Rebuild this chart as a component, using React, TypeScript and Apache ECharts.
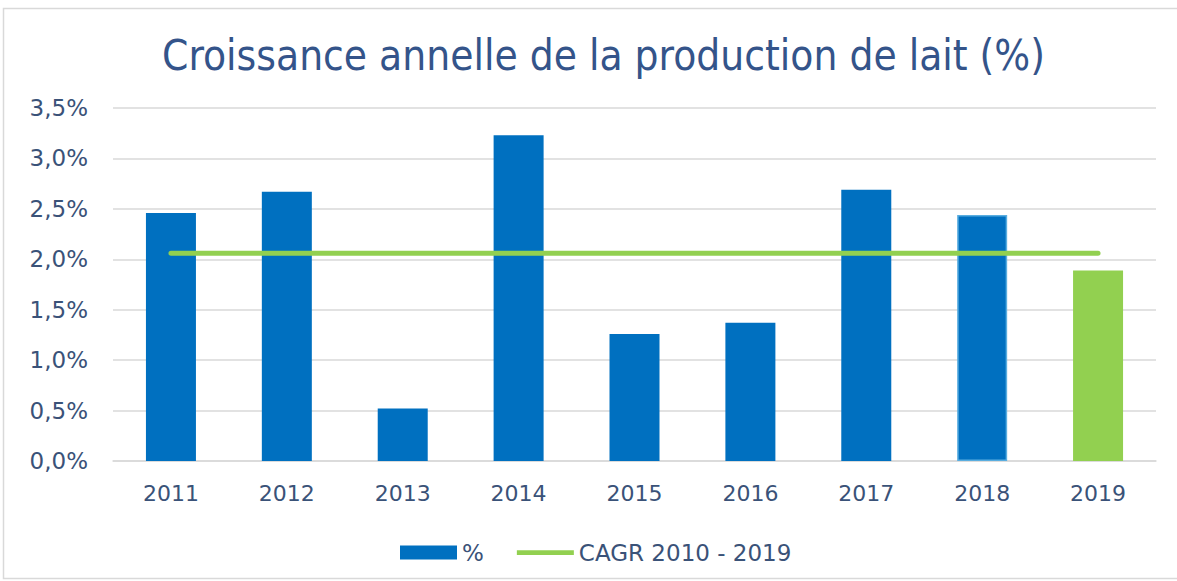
import React, { useEffect, useRef } from "react";
import * as echarts from "echarts";

const categories = ["2011", "2012", "2013", "2014", "2015", "2016", "2017", "2018", "2019"];
const growthValues = [2.46, 2.67, 0.52, 3.23, 1.26, 1.37, 2.69, 2.44, 1.89];
const cagrValues = [2.06, 2.06, 2.06, 2.06, 2.06, 2.06, 2.06, 2.06, 2.06];
const titleText = "Croissance annelle de la production de lait (%)";
const barName = "%";
const lineName = "CAGR 2010 - 2019";

const BLUE = "#0070c0";
const GREEN = "#92d050";
const TEXT = "#3a5278";

export default function App() {
  const ref = useRef<HTMLDivElement>(null);
  useEffect(() => {
    if (!ref.current) return;
    const chart = echarts.init(ref.current, undefined, { renderer: "svg" });
    chart.setOption({
      animation: false,
      backgroundColor: "#ffffff",
      textStyle: { fontFamily: "DejaVu Sans" },
      graphic: [
        {
          type: "rect",
          shape: { x: 3.5, y: 8.5, width: 1180, height: 570 },
          style: { fill: "none", stroke: "#d9d9d9", lineWidth: 1.5 },
          silent: true,
        },
      ],
      title: {
        text: titleText,
        left: 157,
        top: 29,
        textStyle: {
          fontFamily: "DejaVu Sans Condensed",
          fontSize: 42,
          fontWeight: "normal",
          color: "#34548a",
        },
      },
      legend: {
        top: 536,
        left: 395,
        itemGap: 33,
        itemWidth: 57,
        itemHeight: 14,
        textStyle: { fontSize: 23, color: TEXT, fontFamily: "DejaVu Sans" },
        data: [
          { name: barName, icon: "rect" },
          { name: lineName, icon: "path://M0,0 L60,0 L60,5 L0,5 Z" },
        ],
      },
      grid: { left: 113, right: 21, top: 108, bottom: 120, containLabel: false },
      xAxis: {
        type: "category",
        data: categories,
        axisLine: { show: true, lineStyle: { color: "#d9d9d9", width: 1.5 } },
        axisTick: { show: false },
        axisLabel: { color: TEXT, fontSize: 22, margin: 21 },
      },
      yAxis: {
        type: "value",
        min: 0,
        max: 3.5,
        interval: 0.5,
        axisLine: { show: false },
        axisTick: { show: false },
        splitLine: { lineStyle: { color: "#d9d9d9", width: 1.5 } },
        axisLabel: {
          color: TEXT,
          fontSize: 23,
          margin: 25,
          formatter: (v: number) => v.toFixed(1).replace(".", ",") + "%",
        },
      },
      series: [
        {
          name: barName,
          type: "bar",
          barWidth: 50,
          itemStyle: { color: BLUE },
          data: growthValues.map((v, i) =>
            i === categories.length - 1
              ? { value: v, itemStyle: { color: GREEN } }
              : i === categories.length - 2
              ? { value: v, itemStyle: { color: BLUE, borderColor: "#5aaee0", borderWidth: 1.5 } }
              : v
          ),
        },
        {
          name: lineName,
          type: "line",
          data: cagrValues,
          symbol: "none",
          z: 3,
          itemStyle: { color: GREEN },
          lineStyle: { color: GREEN, width: 5, cap: "round" },
        },
      ],
    });
    return () => chart.dispose();
  }, []);
  return (
    <div
      ref={ref}
      style={{ position: "fixed", left: 0, top: 0, width: 1177, height: 581 }}
    />
  );
}
